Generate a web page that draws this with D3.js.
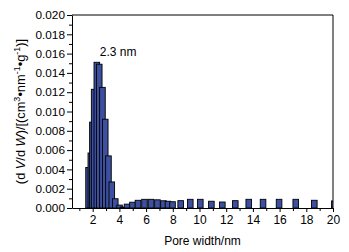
<!DOCTYPE html>
<html>
<head>
<meta charset="utf-8">
<script src="https://cdn.jsdelivr.net/npm/d3@7"></script>
<style>
  body { margin: 0; background: #fff; }
  text { font-family: "Liberation Sans", Arial, sans-serif; fill: #000; }
  .axis path, .axis line { stroke: #000; }
</style>
</head>
<body>
<div id="main"></div>
<script>
// pore width (nm) and dV/dW values
const poreWidth = [1.69, 1.86, 1.98, 2.11, 2.31, 2.49, 2.73, 2.94, 3.18, 3.43, 3.69,
  4.01, 4.27, 4.57, 4.98, 5.39, 5.88, 6.37, 6.85, 7.30, 7.64, 7.98, 8.59, 9.31,
  10.06, 10.89, 11.71, 12.68, 13.69, 14.76, 15.96, 17.21, 18.60, 20.10];
const dVdW = [0.0042, 0.0057, 0.0089, 0.0123, 0.0151, 0.0149, 0.0125, 0.0092, 0.0054, 0.0027, 0.00096,
  0.0003, 0.0001, 0.0004, 0.0006, 0.0008, 0.0009, 0.0009, 0.00085, 0.00075, 0.0007, 0.00065, 0.00076, 0.0009,
  0.0009, 0.0007, 0.00062, 0.00076, 0.0009, 0.0009, 0.0009, 0.0009, 0.0008, 0.00073];
const xTicks = [2, 4, 6, 8, 10, 12, 14, 16, 18, 20];
const xMinor = [1, 3, 5, 7, 9, 11, 13, 15, 17, 19];
const yTicks = [0, 0.002, 0.004, 0.006, 0.008, 0.010, 0.012, 0.014, 0.016, 0.018, 0.020];
const yMinor = [0.001, 0.003, 0.005, 0.007, 0.009, 0.011, 0.013, 0.015, 0.017, 0.019];
const peakLabel = '2.3 nm';

const w = 349, h = 252;
const mLeft = 72, mRight = 333, mTop = 15, mBottom = 208;
const barW = 0.42; // nm

const svg = d3.select('#main').append('svg')
  .attr('width', w).attr('height', h);

const x = d3.scaleLinear().domain([0.45, 20]).range([mLeft, mRight]);
const y = d3.scaleLinear().domain([0, 0.02]).range([mBottom, mTop]);

svg.append('clipPath').attr('id', 'clip')
  .append('rect')
  .attr('x', mLeft).attr('y', mTop)
  .attr('width', mRight - mLeft).attr('height', mBottom - mTop);

svg.append('g').attr('clip-path', 'url(#clip)')
  .selectAll('rect')
  .data(poreWidth)
  .enter()
  .append('rect')
  .attr('x', d => x(d - barW / 2))
  .attr('width', d => x(d + barW / 2) - x(d - barW / 2))
  .attr('y', (d, i) => y(dVdW[i]))
  .attr('height', (d, i) => y(0) - y(dVdW[i]))
  .attr('fill', '#3d4f9f')
  .attr('stroke', '#000')
  .attr('stroke-width', 0.9);

// minor ticks
svg.append('g').attr('class', 'axis')
  .attr('transform', 'translate(0,' + mBottom + ')')
  .call(d3.axisBottom(x).tickValues(xMinor).tickSize(3).tickFormat(''))
  .call(g => g.select('.domain').remove());
svg.append('g').attr('class', 'axis')
  .attr('transform', 'translate(' + mLeft + ',0)')
  .call(d3.axisLeft(y).tickValues(yMinor).tickSize(3).tickFormat(''))
  .call(g => g.select('.domain').remove());

const xAxis = svg.append('g').attr('class', 'axis')
  .attr('transform', 'translate(0,' + mBottom + ')')
  .call(d3.axisBottom(x).tickValues(xTicks).tickSize(4).tickSizeOuter(0).tickPadding(3));
xAxis.selectAll('text').style('font-size', '12px');

const yAxis = svg.append('g').attr('class', 'axis')
  .attr('transform', 'translate(' + mLeft + ',0)')
  .call(d3.axisLeft(y).tickValues(yTicks).tickSize(5).tickSizeOuter(0).tickPadding(2)
    .tickFormat(d3.format('.3f')));
yAxis.selectAll('text').style('font-size', '11.8px');

// top and right frame
svg.append('path')
  .attr('d', 'M' + mLeft + ',' + mTop + 'H' + mRight + 'V' + mBottom)
  .attr('fill', 'none').attr('stroke', '#000');

svg.append('text')
  .attr('x', x(2.31) + 3).attr('y', y(0.0151) - 6)
  .attr('font-size', '12px')
  .text(peakLabel);

svg.append('text')
  .attr('x', (mLeft + mRight) / 2).attr('y', 245)
  .attr('text-anchor', 'middle')
  .attr('font-size', '12px')
  .text('Pore width/nm');

const yl = svg.append('text')
  .attr('transform', 'translate(25,' + ((mTop + mBottom) / 2) + ') rotate(-90)')
  .attr('text-anchor', 'middle')
  .attr('font-size', '12.8px');
yl.append('tspan').text('(d ');
yl.append('tspan').attr('font-style', 'italic').text('V');
yl.append('tspan').text('/d ');
yl.append('tspan').attr('font-style', 'italic').text('W');
yl.append('tspan').text(')/[(cm');
yl.append('tspan').attr('baseline-shift', 'super').attr('font-size', '9px').text('3');
yl.append('tspan').text('•nm');
yl.append('tspan').attr('baseline-shift', 'super').attr('font-size', '9px').text('-1');
yl.append('tspan').text('•g');
yl.append('tspan').attr('baseline-shift', 'super').attr('font-size', '9px').text('-1');
yl.append('tspan').text(')]');
</script>
</body>
</html>
